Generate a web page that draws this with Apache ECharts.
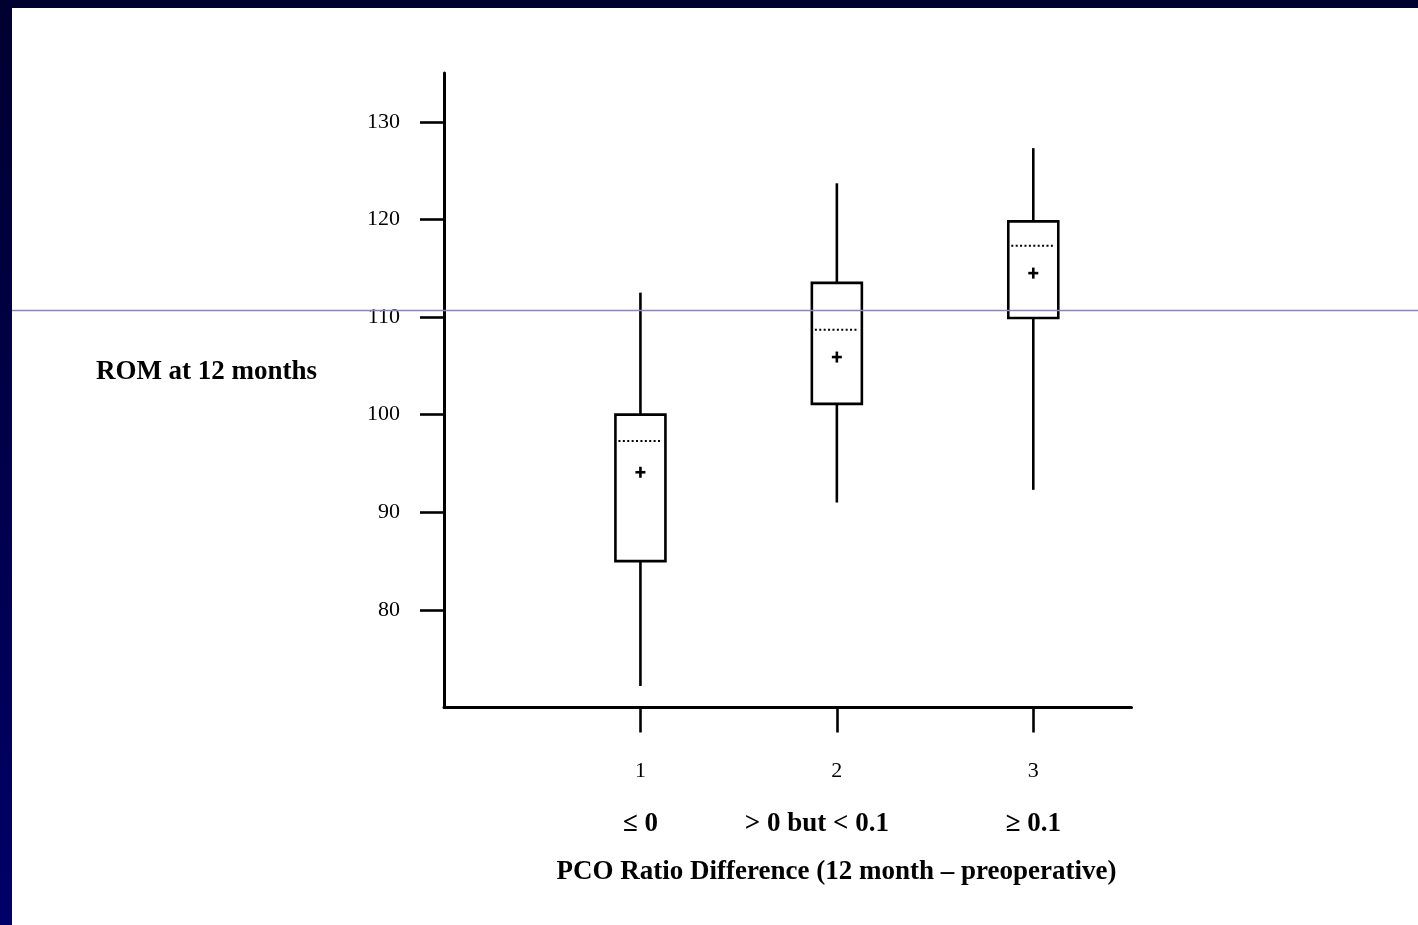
<!DOCTYPE html>
<html>
<head>
<meta charset="utf-8">
<script src="https://cdn.jsdelivr.net/npm/echarts@6/dist/echarts.min.js"></script>
<style>
  html, body { margin: 0; padding: 0; width: 1418px; height: 925px; overflow: hidden;
    background: linear-gradient(to bottom, #000030 0%, #00004a 50%, #000068 100%); }
  #chart { position: absolute; left: 12px; top: 8px; width: 1406px; height: 917px; background: #ffffff; }
</style>
</head>
<body>
<div id="chart"></div>
<script>
// ---- data ----
const groupPositions = [1, 2, 3];
const groupNumbers = ['1', '2', '3'];
const groupLabels = ['≤ 0', '> 0 but < 0.1', '≥ 0.1'];
const whiskerLow = [72.2, 91.0, 92.3];
const boxQ1 = [85.0, 101.1, 109.9];
const medians = [97.3, 108.7, 117.3];
const boxQ3 = [100.0, 113.5, 119.8];
const whiskerHigh = [112.5, 123.7, 127.3];
const means = [94.1, 105.9, 114.5];
const yTicks = [80, 90, 100, 110, 120, 130];
const yAxisTitle = 'ROM at 12 months';
const xAxisTitle = 'PCO Ratio Difference (12 month – preoperative)';

const seriesData = groupPositions.map((x, i) => [x, whiskerLow[i], boxQ1[i], medians[i], boxQ3[i], whiskerHigh[i], means[i]]);

const FONT = '"Liberation Serif", "Times New Roman", serif';
const chart = echarts.init(document.getElementById('chart'), null, { renderer: 'canvas' });

function renderItem(params, api) {
  const x = api.value(0);
  const pLow = api.coord([x, api.value(1)]);
  const pQ1 = api.coord([x, api.value(2)]);
  const pMed = api.coord([x, api.value(3)]);
  const pQ3 = api.coord([x, api.value(4)]);
  const pHigh = api.coord([x, api.value(5)]);
  const pMean = api.coord([x, api.value(6)]);
  const half = 25;
  const st = { stroke: '#000', lineWidth: 2.6, fill: null };
  return {
    type: 'group',
    children: [
      { type: 'line', shape: { x1: pHigh[0], y1: pHigh[1], x2: pQ3[0], y2: pQ3[1] }, style: st },
      { type: 'line', shape: { x1: pQ1[0], y1: pQ1[1], x2: pLow[0], y2: pLow[1] }, style: st },
      { type: 'rect', shape: { x: pQ3[0] - half, y: pQ3[1], width: half * 2, height: pQ1[1] - pQ3[1] },
        style: { stroke: '#000', lineWidth: 2.6, fill: '#fff' } },
      { type: 'line', shape: { x1: pMed[0] - half + 3, y1: pMed[1], x2: pMed[0] + half - 3, y2: pMed[1] },
        style: { stroke: '#000', lineWidth: 2, lineDash: [2, 2.4] } },
      { type: 'line', shape: { x1: pMean[0] - 5, y1: pMean[1], x2: pMean[0] + 5, y2: pMean[1] }, style: st },
      { type: 'line', shape: { x1: pMean[0], y1: pMean[1] - 5.5, x2: pMean[0], y2: pMean[1] + 5.5 }, style: st }
    ]
  };
}

const option = {
  backgroundColor: '#ffffff',
  animation: false,
  grid: { left: 432, top: 65, width: 687.5, height: 634.5, containLabel: false },
  xAxis: {
    type: 'value', min: 0, max: 3.5,
    splitLine: { show: false },
    axisLine: { show: true, lineStyle: { color: '#000', width: 3 } },
    axisTick: { show: true, customValues: groupPositions, length: 25, inside: false, lineStyle: { color: '#000', width: 2.6 } },
    axisLabel: {
      show: true, customValues: groupPositions, margin: 38,
      formatter: function (v) {
        const i = groupPositions.indexOf(v);
        const style = i === 1 ? 'c2' : 'c';
        return '{n|' + groupNumbers[i] + '}\n{' + style + '|' + groupLabels[i] + '}';
      },
      rich: {
        n: { fontFamily: FONT, fontSize: 22, color: '#000', lineHeight: 52 },
        c: { fontFamily: FONT, fontSize: 27, fontWeight: 'bold', color: '#000', lineHeight: 53 },
        c2: { fontFamily: FONT, fontSize: 27, fontWeight: 'bold', color: '#000', lineHeight: 53, padding: [0, 40, 0, 0] }
      }
    }
  },
  yAxis: {
    type: 'value', min: 70, max: 135,
    splitLine: { show: false },
    axisLine: { show: true, lineStyle: { color: '#000', width: 3 } },
    axisTick: { show: true, customValues: yTicks, length: 24, lineStyle: { color: '#000', width: 2.6 } },
    axisLabel: { show: true, customValues: yTicks, margin: 44, fontFamily: FONT, fontSize: 22, color: '#000' }
  },
  graphic: [
    { type: 'line', shape: { x1: 0, y1: 302.5, x2: 1406, y2: 302.5 }, style: { stroke: '#8888b8', lineWidth: 1.5 }, z: 100 },
    { type: 'text', x: 194.5, y: 364, style: { text: yAxisTitle, font: 'bold 27px ' + FONT, fill: '#000', align: 'center', verticalAlign: 'middle' } },
    { type: 'text', x: 824.5, y: 864, style: { text: xAxisTitle, font: 'bold 27px ' + FONT, fill: '#000', align: 'center', verticalAlign: 'middle' } }
  ],
  series: [{
    type: 'custom',
    renderItem: renderItem,
    encode: { x: 0, y: [1, 2, 3, 4, 5, 6] },
    data: seriesData,
    z: 10
  }]
};
chart.setOption(option);
</script>
</body>
</html>
